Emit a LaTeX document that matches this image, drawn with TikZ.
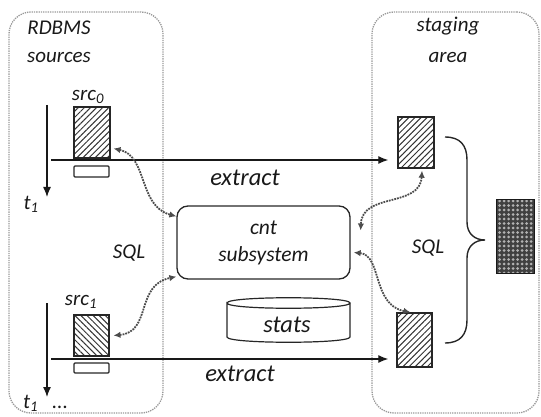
\documentclass[tikz,border=0pt]{standalone}
\usepackage{fontspec}
\setmainfont{Carlito}
\usetikzlibrary{arrows.meta,patterns.meta,calc}
\begin{document}
\begin{tikzpicture}[x=1pt,y=-1pt,
  area/.style={draw=gray!80, densely dotted, line width=1.3pt, rounded corners=22pt, inner sep=0pt},
  lbl/.style={font=\itshape\fontsize{21}{25}\selectfont, inner sep=0pt, text=black!90},
  biglbl/.style={font=\itshape\fontsize{24.5}{28}\selectfont, inner sep=0pt, text=black!90},
  hatchA/.style={draw=black!85, line width=1.4pt, inner sep=0pt, pattern={Lines[angle=45,distance=4.3pt,line width=1pt]}, pattern color=black!80},
  hatchB/.style={draw=black!85, line width=1.4pt, inner sep=0pt, pattern={Lines[angle=-45,distance=4.3pt,line width=1pt]}, pattern color=black!80},
  plainbox/.style={draw=black!85, line width=1.2pt, inner sep=0pt, rounded corners=1pt},
  flow/.style={draw=black!90, line width=1.3pt, -{Latex[length=10pt,width=8pt]}},
  sqlflow/.style={draw=black!70, densely dotted, line width=1.8pt, {Latex[length=7pt,width=6.5pt]}-{Latex[length=7pt,width=6.5pt]}}
]
\useasboundingbox (0,0) rectangle (541,417);

% areas
\node[area, minimum width=154pt, minimum height=401pt] (L) at (86,212.5) {};
\node[area, minimum width=167pt, minimum height=401pt] (R) at (455.5,212.5) {};

% labels in areas
\node[lbl] (rdbms) at (59,28) {RDBMS};
\node[lbl] (sources) at (59,57) {sources};
\node[lbl] (staging) at (448,26) {staging};
\node[lbl] (areat) at (448,57) {area};

% sources
\node[lbl] (src0l) at (88,97) {src\textsubscript{0}};
\node[hatchA, minimum width=36pt, minimum height=51pt] (s0) at (92,132.5) {};
\node[plainbox, minimum width=35pt, minimum height=11pt] (b0) at (91.5,171.5) {};
\node[lbl] (src1l) at (81,302) {src\textsubscript{1}};
\node[hatchB, minimum width=35pt, minimum height=41pt] (s1) at (91.5,335.5) {};
\node[plainbox, minimum width=35pt, minimum height=10pt] (b1) at (91.5,368) {};

% time arrows
\coordinate (ta0) at (47,105);
\coordinate (tb0) at (47,197);
\coordinate (ta1) at (47,303);
\coordinate (tb1) at (47,397);
\draw[flow] (ta0) -- (tb0);
\draw[flow] (ta1) -- (tb1);
\node[lbl] (t0) at (31,204) {t\textsubscript{1}};
\node[lbl, anchor=west] (t1) at (23,403) {t\textsubscript{1}\hspace{14pt}...};

% staging tables
\node[hatchA, minimum width=36pt, minimum height=51pt] (ru) at (416,142.5) {};
\node[hatchA, minimum width=35pt, minimum height=54pt] (rl) at (414.5,340) {};
\node[draw=black!90, line width=1.2pt, inner sep=0pt, minimum width=38pt, minimum height=74pt,
      preaction={fill=black!75}, pattern={Dots[distance=4.5pt,radius=1.5pt]}, pattern color=gray!60] (dark) at (515.5,236.5) {};

% extract arrows
\coordinate (e0) at (51,160);
\coordinate (e1) at (51,359);
\draw[flow, shorten >=9pt] (e0) -- (e0 -| ru.west);
\draw[flow, shorten >=8pt] (e1) -- (e1 -| rl.west);
\node[biglbl] (ex0) at (245,178) {extract};
\node[biglbl] (ex1) at (240,374) {extract};

% cnt subsystem
\node[draw=black!85, line width=1.3pt, rounded corners=11pt, minimum width=173pt, minimum height=73pt,
      inner sep=0pt, align=center, font=\itshape\fontsize{21.5}{27}\selectfont, text=black!90] (cnt) at (263.5,242.5) {cnt\\subsystem};

% stats cylinder
\draw[draw=black!85, line width=1.2pt] (227,303) .. controls (227,296) and (350,296) .. (350,303)
   .. controls (350,310) and (227,310) .. (227,303) -- (227,337)
   .. controls (227,344) and (350,344) .. (350,337) -- (350,303);
\node[biglbl] (stats) at (287,325) {stats};

% SQL labels
\node[lbl] (sqlL) at (129,253) {SQL};
\node[lbl] (sqlR) at (428,248) {SQL};

% dotted SQL connectors
\coordinate (p0) at ($(s0.south east)+(3,-10)$);
\coordinate (q0) at ($(cnt.north west)+(0,11)$);
\draw[sqlflow] (p0) .. controls (148,156) and (138,206) .. (q0);
\coordinate (p1) at ($(s1.east)+(4,0)$);
\coordinate (q1) at ($(cnt.south west)+(0,-3)$);
\draw[sqlflow] (p1) .. controls (152,332) and (135,285) .. (q1);
\coordinate (p2) at ($(ru.south)+(6,2)$);
\coordinate (q2) at ($(cnt.east)+(10,-12)$);
\draw[sqlflow] (p2) .. controls (420,208) and (362,192) .. (q2);
\coordinate (p3) at ($(rl.north)+(-4,0)$);
\coordinate (q3) at ($(cnt.east)+(3,10)$);
\draw[sqlflow] (q3) .. controls (382,255) and (372,305) .. (p3);

% brace
\coordinate (bt) at (445,137);
\coordinate (bb) at (445,343);
\coordinate (btip) at (485,240);
\draw[draw=black!85, line width=1.4pt] (bt) .. controls (460,137) and (467,145) .. (467,160)
   -- (467,222) .. controls (467,234) and (475,240) .. (btip)
   .. controls (475,240) and (467,246) .. (467,258)
   -- (467,320) .. controls (467,335) and (460,343) .. (bb);
\end{tikzpicture}
\end{document}
